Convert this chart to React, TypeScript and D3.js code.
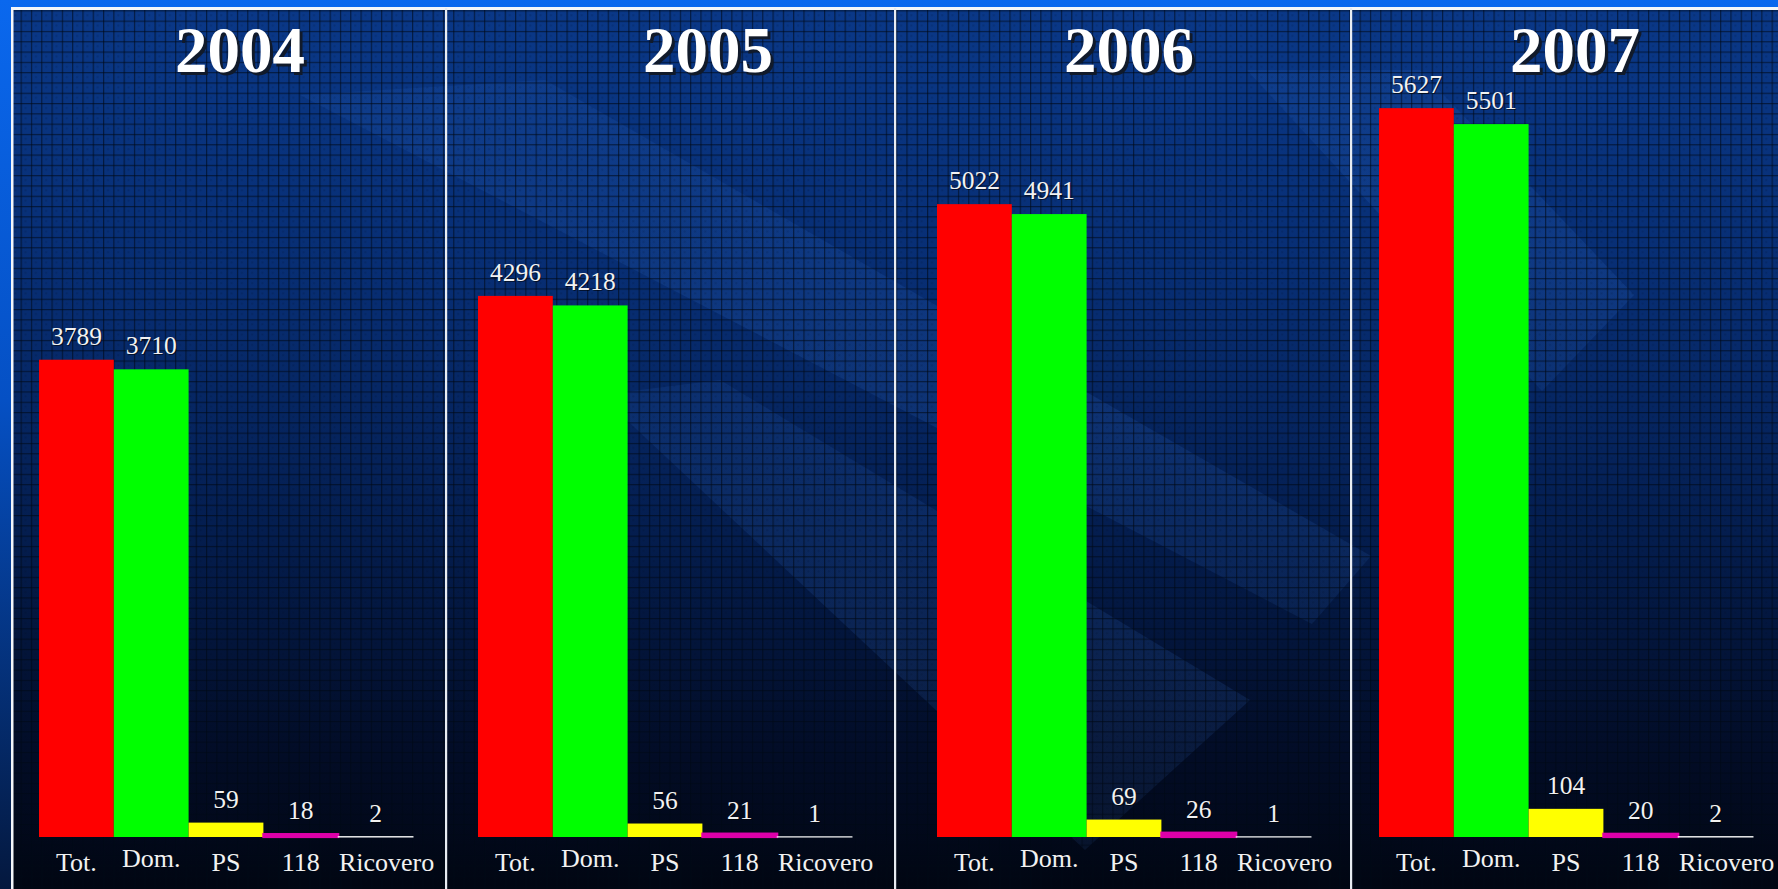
import React from "react";
import * as d3 from "d3";

// ---------- data ----------
const years = ["2004", "2005", "2006", "2007"];
const categories = ["Tot.", "Dom.", "PS", "118", "Ricovero"];
const totValues = [3789, 4296, 5022, 5627];
const domValues = [3710, 4218, 4941, 5501];
const psValues = [59, 56, 69, 104];
const e118Values = [18, 21, 26, 20];
const ricoveroValues = [2, 1, 1, 2];
// axis maximum of each year's panel
const yAxisMax = [5950, 5925, 5895, 5715];

// ---------- styles / layout ----------
const barColors = ["#ff0000", "#00ff00", "#ffff00", "#dd00aa", "#ffffff"];
const barStroke = [0, 0, 0, 2.2, 1.0];
const W = 1778;
const H = 889;
const frameX = 11;
const frameY = 8;
const dividerX = [446, 895, 1351];
const plotLeft = [39, 478, 937, 1379];
const plotWidth = 374;
const baseline = 837;
const plotTop = 97;
const titleX = [240, 708, 1129, 1575];
const titleY = 72;
const serif = "'Liberation Serif', 'Times New Roman', Times, serif";

const seriesByCategory = [totValues, domValues, psValues, e118Values, ricoveroValues];

function Panel({ idx }: { idx: number }) {
  const x = d3
    .scaleBand<string>()
    .domain(categories)
    .range([plotLeft[idx], plotLeft[idx] + plotWidth])
    .padding(0);
  const y = d3
    .scaleLinear()
    .domain([0, 25, 110, yAxisMax[idx]])
    .range([baseline, baseline - 4, baseline - 30, plotTop]);

  return (
    <g>
      {categories.map((c, ci) => {
        const v = seriesByCategory[ci][idx];
        const top = y(v);
        const bx = x(c) as number;
        const bw = x.bandwidth();
        return (
          <g key={c}>
            <rect
              x={bx}
              y={top}
              width={bw}
              height={Math.max(0, baseline - top)}
              fill={barColors[ci]}
              stroke={barStroke[ci] > 0 ? barColors[ci] : "none"}
              strokeWidth={barStroke[ci]}
            />
            <text
              x={bx + bw / 2 + 1}
              y={top - 15 + 1}
              textAnchor="middle"
              fontFamily={serif}
              fontSize={25.5}
              fill="#000000"
              opacity={0.55}
            >
              {v}
            </text>
            <text
              x={bx + bw / 2}
              y={top - 15}
              textAnchor="middle"
              fontFamily={serif}
              fontSize={25.5}
              fill="#f2f2f2"
            >
              {v}
            </text>
            <text
              x={bx + bw / 2 + (ci === 4 ? 11 : 0)}
              y={ci === 1 ? 867 : 871}
              textAnchor="middle"
              fontFamily={serif}
              fontSize={26}
              fill="#f2f2f2"
            >
              {c}
            </text>
          </g>
        );
      })}
      <text
        x={titleX[idx] + 3}
        y={titleY + 3}
        textAnchor="middle"
        fontFamily={serif}
        fontWeight="bold"
        fontSize={65}
        fill="#111a2a"
      >
        {years[idx]}
      </text>
      <text
        x={titleX[idx]}
        y={titleY}
        textAnchor="middle"
        fontFamily={serif}
        fontWeight="bold"
        fontSize={65}
        fill="#ffffff"
      >
        {years[idx]}
      </text>
    </g>
  );
}

export default function App() {
  return (
    <svg
      width={W}
      height={H}
      viewBox={`0 0 ${W} ${H}`}
      style={{ position: "fixed", left: 0, top: 0, display: "block" }}
    >
      <defs>
        <linearGradient id="outerGrad" x1="0" y1="0" x2="0" y2="1">
          <stop offset="0" stopColor="#0a68ee" />
          <stop offset="0.45" stopColor="#0550c4" />
          <stop offset="1" stopColor="#04183e" />
        </linearGradient>
        <linearGradient id="innerGrad" x1="0" y1="0" x2="0" y2="1">
          <stop offset="0" stopColor="#0a3888" />
          <stop offset="0.35" stopColor="#072c70" />
          <stop offset="0.6" stopColor="#041d4e" />
          <stop offset="0.85" stopColor="#020c26" />
          <stop offset="1" stopColor="#010612" />
        </linearGradient>
        <linearGradient id="logoGrad" x1="0" y1="0" x2="0" y2="1">
          <stop offset="0" stopColor="#3f7fe0" stopOpacity="0.1" />
          <stop offset="0.6" stopColor="#3f7fe0" stopOpacity="0.14" />
          <stop offset="1" stopColor="#3f7fe0" stopOpacity="0.1" />
        </linearGradient>
        <pattern id="grid" width="10.3" height="10.3" patternUnits="userSpaceOnUse">
          <rect x="0" y="0" width="10.3" height="1.2" fill="#000816" opacity="0.6" />
          <rect x="0" y="0" width="1.2" height="10.3" fill="#000816" opacity="0.6" />
          <rect x="4" y="4" width="2" height="2" fill="#000816" opacity="0.15" />
        </pattern>
      </defs>

      {/* slide background */}
      <rect x={0} y={0} width={W} height={H} fill="url(#outerGrad)" />
      <rect x={frameX} y={frameY} width={W - frameX} height={H - frameY} fill="url(#innerGrad)" />

      {/* faint diagonal logo shapes */}
      <g fill="url(#logoGrad)">
        <polygon points="300,95 545,80 1371,556 1312,624" />
        <polygon points="600,395 720,380 1250,700 1085,850" />
        <polygon points="1247,70 1420,70 1634,295 1542,391" />
      </g>

      {/* grid texture */}
      <rect x={frameX} y={frameY} width={W - frameX} height={H - frameY} fill="url(#grid)" />

      {/* frame and dividers */}
      <rect x={frameX} y={frameY - 1} width={W - frameX} height={3} fill="#f4f6fa" />
      <rect x={frameX} y={frameY} width={2.5} height={H - frameY} fill="#f4f6fa" />
      {dividerX.map((dx) => (
        <rect key={dx} x={dx - 1} y={frameY} width={2.2} height={H - frameY} fill="#e8ecf2" />
      ))}

      {years.map((yr, i) => (
        <Panel key={yr} idx={i} />
      ))}
    </svg>
  );
}
